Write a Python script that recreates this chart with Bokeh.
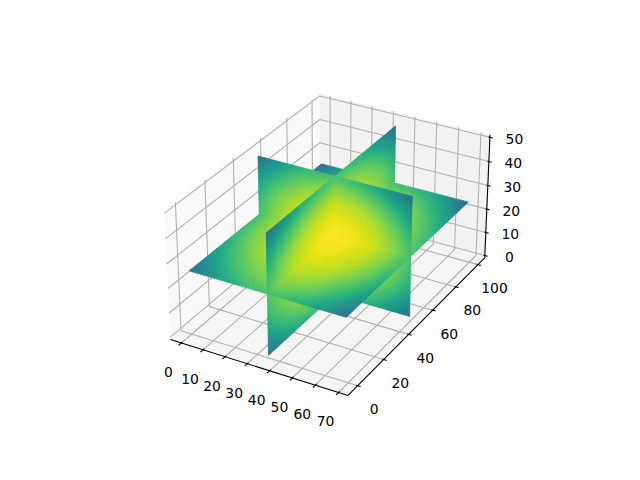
import numpy as np
from bokeh.core.properties import value
from bokeh.embed import file_html
from bokeh.models import Range1d
from bokeh.palettes import Viridis256
from bokeh.plotting import figure
from bokeh.resources import INLINE

# Axis limits and ticks
x_limits = (-3.45, 72.45)
y_limits = (-4.95, 103.95)
z_limits = (0, 50)
x_ticks = [0, 10, 20, 30, 40, 50, 60, 70]
y_ticks = [0, 20, 40, 60, 80, 100]
z_ticks = [0, 10, 20, 30, 40, 50]
plane_at = {"x": 35, "y": 50, "z": 25}
shape = (70, 100, 50)

# Colour level (0..1 on the colormap) estimated at 11 x 11 stations across a slice
slice_levels = [
    [.35, .47, .57, .64, .69, .71, .69, .64, .57, .47, .35],
    [.47, .59, .69, .76, .80, .82, .80, .76, .69, .59, .47],
    [.57, .69, .78, .85, .89, .90, .89, .85, .78, .69, .57],
    [.64, .76, .85, .91, .94, .96, .94, .91, .85, .76, .64],
    [.69, .80, .89, .94, .98, .99, .98, .94, .89, .80, .69],
    [.71, .82, .90, .96, .99, 1.0, .99, .96, .90, .82, .71],
    [.69, .80, .89, .94, .98, .99, .98, .94, .89, .80, .69],
    [.64, .76, .85, .91, .94, .96, .94, .91, .85, .76, .64],
    [.57, .69, .78, .85, .89, .90, .89, .85, .78, .69, .57],
    [.47, .59, .69, .76, .80, .82, .80, .76, .69, .59, .47],
    [.35, .47, .57, .64, .69, .71, .69, .64, .57, .47, .35],
]

# --- 3D projection -------------------------------------------------------
lims = np.array([x_limits, y_limits, z_limits], float)
box = np.array([.959, 1.425, .695])
DIST = 10.0
el, az = np.radians(29.4), np.radians(-60.6)
R = box / 2
w = np.array([np.cos(el) * np.cos(az), np.cos(el) * np.sin(az), np.sin(el)])
eye = R + DIST * w
u_v = np.cross([0, 0, 1.0], w)
u_v /= np.linalg.norm(u_v)
v_v = np.cross(w, u_v)
AX_L, AX_B, AX_S = 143.2 + 7.5, 427.2 + 5.5, 369.6


def project(pts):
    pts = np.asarray(pts, float)
    world = (pts - lims[:, 0]) / (lims[:, 1] - lims[:, 0]) * box
    d = world - eye
    depth = -(d @ w)
    xp, yp = (d @ u_v) / depth, (d @ v_v) / depth
    return AX_L + (xp + .095) / .185 * AX_S, AX_B - (yp + .095) / .185 * AX_S, depth


rng = lims[:, 1] - lims[:, 0]
mins = lims[:, 0] - rng / 48
maxs = lims[:, 1] + rng / 48
deltas = rng / 12

p = figure(width=624, height=464, x_range=Range1d(8, 632), y_range=Range1d(472, 8),
           toolbar_location=None, output_backend="svg", min_border=0,
           outline_line_color=None, background_fill_color="white")
p.axis.visible = False
p.grid.visible = False

# Panes
(x0, y0, z0), (x1, y1, z1) = mins, maxs
panes = [
    ([(x0, y0, z0), (x0, y1, z0), (x0, y1, z1), (x0, y0, z1)], "#f9f9f9"),
    ([(x0, y1, z0), (x1, y1, z0), (x1, y1, z1), (x0, y1, z1)], "#f2f2f2"),
    ([(x0, y0, z0), (x1, y0, z0), (x1, y1, z0), (x0, y1, z0)], "#f5f5f5"),
]
for corners, col in panes:
    sx, sy, _ = project(corners)
    p.patch(list(sx), list(sy), fill_color=col, line_color=None)

# Grid lines
grid_paths = []
for t in x_ticks:
    grid_paths.append([(t, y0, z0), (t, y1, z0), (t, y1, z1)])
for t in y_ticks:
    grid_paths.append([(x1, t, z0), (x0, t, z0), (x0, t, z1)])
for t in z_ticks:
    grid_paths.append([(x0, y0, t), (x0, y1, t), (x1, y1, t)])
gx, gy = [], []
for path in grid_paths:
    sx, sy, _ = project(path)
    gx.append(list(sx))
    gy.append(list(sy))
p.multi_line(gx, gy, line_color="#b0b0b0", line_width=1.1)

# Axis lines
axes = [[(x0, y0, z0), (x1, y0, z0)], [(x1, y0, z0), (x1, y1, z0)], [(x1, y1, z0), (x1, y1, z1)]]
ax_x, ax_y = [], []
for path in axes:
    sx, sy, _ = project(path)
    ax_x.append(list(sx))
    ax_y.append(list(sy))

# Ticks and labels
TICK_OUT, TICK_IN = 0.2, 0.1
tx, ty, lx, ly, lt = [], [], [], [], []


def add_tick(base, tick_axis, sign, off, text):
    base = np.array(base, float)
    a, b = base.copy(), base.copy()
    a[tick_axis] += sign * TICK_OUT * deltas[tick_axis]
    b[tick_axis] -= sign * TICK_IN * deltas[tick_axis]
    sx, sy, _ = project([a, b])
    tx.append(list(sx))
    ty.append(list(sy))
    qx, qy, _ = project([base])
    lx.append(float(qx[0]) + off[0])
    ly.append(float(qy[0]) + off[1])
    lt.append(text)


for t in x_ticks:
    add_tick((t, y0, z0), 1, -1, (-13, 29), str(t))
for t in y_ticks:
    add_tick((x1, t, z0), 0, 1, (16.5, 23.5), str(t))
for t in z_ticks:
    add_tick((x1, y1, t), 0, 1, (24.5, 1.5), str(t))

p.multi_line(ax_x + tx, ax_y + ty, line_color="black", line_width=1.1)

# Slices, split into four quadrants, painted back to front
levels = np.array(slice_levels)
K = 32
GAP = 0.1


def level_at(a, b):
    a, b = a * 10, b * 10
    i, j = min(int(a), 9), min(int(b), 9)
    fa, fb = a - i, b - j
    return ((1 - fa) * (1 - fb) * levels[i, j] + fa * (1 - fb) * levels[i + 1, j]
            + (1 - fa) * fb * levels[i, j + 1] + fa * fb * levels[i + 1, j + 1])


quads = []
axis_ids = {"x": (0, 1, 2), "y": (1, 0, 2), "z": (2, 0, 1)}
for name, (fix, ia, ib) in axis_ids.items():
    na, nb = shape[ia], shape[ib]
    for qa in (0, 1):
        for qb in (0, 1):
            a_lo, a_hi = (0, na / 2 - GAP) if qa == 0 else (na / 2, na - 1)
            b_lo, b_hi = (0, nb / 2 - GAP) if qb == 0 else (nb / 2, nb - 1)
            xs, ys, cols = [], [], []
            aa = np.linspace(a_lo, a_hi, K + 1)
            bb = np.linspace(b_lo, b_hi, K + 1)

            def pt(a, b):
                q = [0.0, 0.0, 0.0]
                q[fix], q[ia], q[ib] = plane_at[name], a, b
                return q

            for m in range(K):
                for n in range(K):
                    sx, sy, _ = project([pt(aa[m], bb[n]), pt(aa[m + 1], bb[n]),
                                         pt(aa[m + 1], bb[n + 1]), pt(aa[m], bb[n + 1])])
                    xs.append(list(sx))
                    ys.append(list(sy))
                    lv = level_at((aa[m] + aa[m + 1]) / 2 / (na - 1), (bb[n] + bb[n + 1]) / 2 / (nb - 1))
                    cols.append(Viridis256[int(round(lv * 255))])
            _, _, dep = project([pt((a_lo + a_hi) / 2, (b_lo + b_hi) / 2)])
            quads.append((float(dep[0]), xs, ys, cols))

quads.sort(key=lambda q: -q[0])
for _, xs, ys, cols in quads:
    p.patches(xs, ys, fill_color=cols, line_color=cols, line_width=0.7)

p.text(lx, ly, text=lt, text_font=value("DejaVu Sans"), text_font_size="13.9px",
       text_align="center", text_baseline="middle", text_color="black")

open("out.html", "w").write(file_html(p, INLINE))
